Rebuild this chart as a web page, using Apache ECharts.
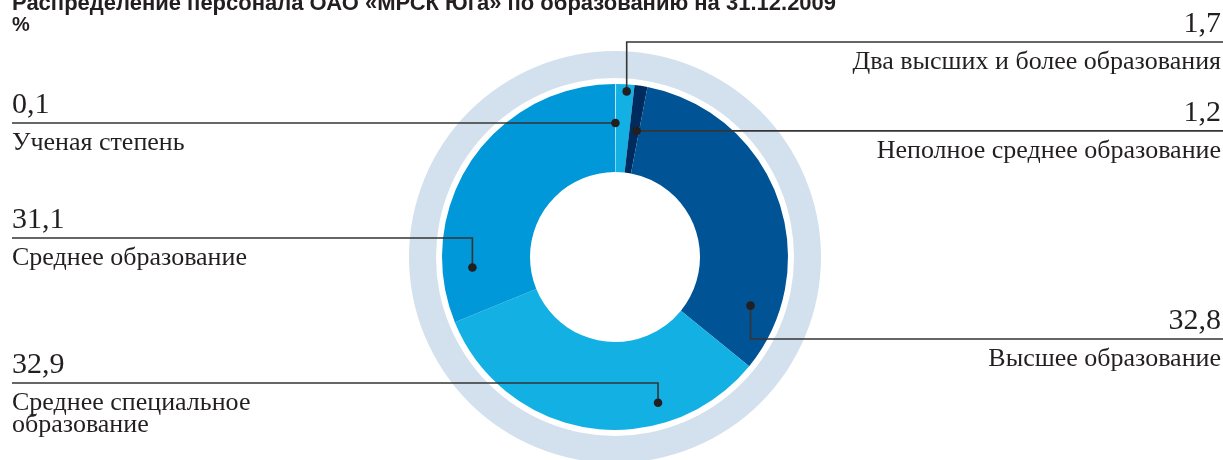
<!DOCTYPE html>
<html>
<head>
<meta charset="utf-8">
<script src="https://cdn.jsdelivr.net/npm/echarts@6/dist/echarts.min.js"></script>
<style>
html, body { margin: 0; padding: 0; background: #fff; }
#chart_block { width: 1223px; height: 460px; }
</style>
</head>
<body>
<div id="chart_block"></div>
<script>
var title_text = 'Распределение персонала ОАО «МРСК Юга» по образованию на 31.12.2009';
var unit_text = '%';

var names = [
	'Ученая степень',
	'Два высших и более образования',
	'Неполное среднее образование',
	'Высшее образование',
	'Среднее специальное\nобразование',
	'Среднее образование'
];
var values = [0.1, 1.7, 1.2, 32.8, 32.9, 31.1];

var colors = ['#bfe4f5', '#13b0e3', '#002b5e', '#005395', '#13b0e3', '#0098d8'];

// callout placement (where the dot sits inside a slice, where the leader runs)
var side = ['left', 'right', 'right', 'right', 'left', 'left'];
var leader_y = [null, 42, null, 339, 383, 238];
var anchor_pos = [0.5, 0.6, 0.75, 0.836, 0.29, 0.16];
var anchor_r = [134, 166, 128, 144, 152, 143];

var chartDom = document.getElementById('chart_block');
var myChart = echarts.init(chartDom, null, { renderer: 'canvas' });

var pie_data = [];
for (var i = 0; i < values.length; i++) {
	pie_data.push({ name: names[i], value: values[i], itemStyle: { color: colors[i] } });
}

var options = {
	animation: false,
	title: {
		text: title_text,
		subtext: unit_text,
		left: 12,
		top: -7,
		itemGap: 0,
		padding: 0,
		textStyle: {
			fontFamily: 'Liberation Sans',
			fontWeight: 'bold',
			fontSize: 22,
			color: '#231f20'
		},
		subtextStyle: {
			fontFamily: 'Liberation Sans',
			fontWeight: 'bold',
			fontSize: 20,
			color: '#231f20'
		}
	},
	series: [
		{
			name: 'ring',
			type: 'pie',
			center: [615, 257],
			radius: [179, 206],
			silent: true,
			label: { show: false },
			labelLine: { show: false },
			itemStyle: { color: '#d2e1ed', borderWidth: 0 },
			emphasis: { disabled: true },
			data: [1]
		},
		{
			name: 'Образование',
			type: 'pie',
			center: [615, 257],
			radius: [85, 173],
			startAngle: 90,
			clockwise: true,
			silent: true,
			label: { show: false },
			labelLine: { show: false },
			itemStyle: { borderWidth: 0 },
			emphasis: { disabled: true },
			data: pie_data
		}
	]
};

myChart.setOption(options, true);

// callouts from the pie's own layout
var data = myChart.getModel().getSeriesByIndex(1).getData();
var graphics = [];
for (var i = 0; i < values.length; i++) {
	var lay = data.getItemLayout(i);
	var a = lay.startAngle + anchor_pos[i] * (lay.endAngle - lay.startAngle);
	var px = lay.cx + anchor_r[i] * Math.cos(a);
	var py = lay.cy + anchor_r[i] * Math.sin(a);
	var ly = leader_y[i] == null ? py : leader_y[i];
	var ex = side[i] == 'left' ? 12 : 1223;
	graphics.push({
		type: 'polyline',
		z: 10,
		shape: { points: [[px, py], [px, ly], [ex, ly]] },
		style: { stroke: '#353535', lineWidth: 1.6, fill: null }
	});
	graphics.push({
		type: 'circle',
		z: 11,
		shape: { cx: px, cy: py, r: 4.3 },
		style: { fill: '#231f20' }
	});
	var tx = side[i] == 'left' ? 12 : 1221;
	graphics.push({
		type: 'text',
		z: 11,
		style: {
			text: String(values[i]).replace('.', ','),
			x: tx,
			y: ly - 3,
			align: side[i],
			verticalAlign: 'bottom',
			font: '30px "Liberation Serif", serif',
			fill: '#231f20'
		}
	});
	graphics.push({
		type: 'text',
		z: 11,
		style: {
			text: names[i],
			x: tx,
			y: ly + 9,
			align: side[i],
			verticalAlign: 'top',
			font: '26px "Liberation Serif", serif',
			lineHeight: 22,
			fill: '#231f20'
		}
	});
}

myChart.setOption({ graphic: graphics });
</script>
</body>
</html>
